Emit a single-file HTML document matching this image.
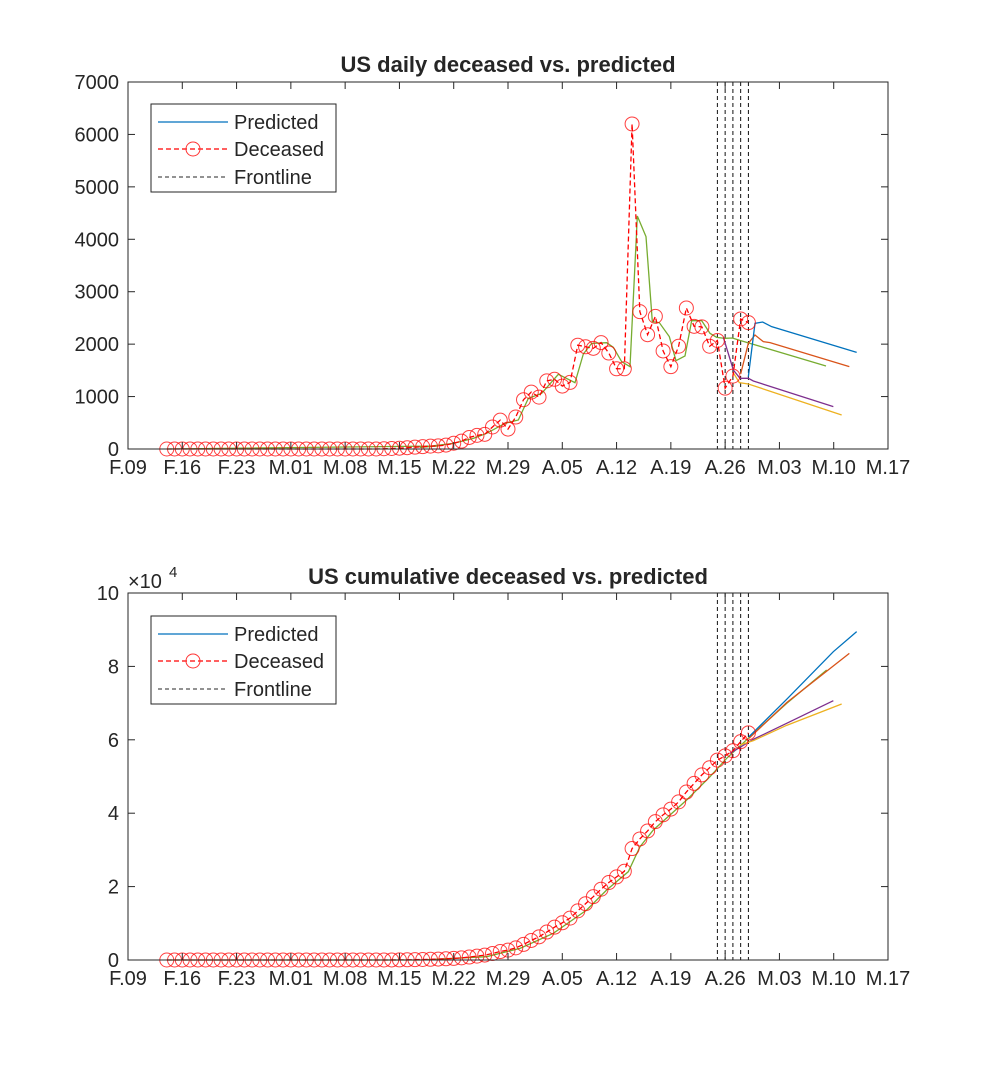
<!DOCTYPE html>
<html><head><meta charset="utf-8"><style>
body{margin:0;background:#fff}
svg{display:block}
text{font-family:"Liberation Sans",Arial,sans-serif;fill:#262626}
</style></head><body>
<svg id="s" width="983" height="1080" xmlns="http://www.w3.org/2000/svg"></svg>
<script>
const S=document.getElementById('s');let h='';
const L=128,R=888,pd=(R-L)/98;
const X=d=>L+d*pd;
const labs=['F.09','F.16','F.23','M.01','M.08','M.15','M.22','M.29','A.05','A.12','A.19','A.26','M.03','M.10','M.17'];
const red={};
for(let d=5;d<=80;d++)red[d]=0;
const v={33:5,34:10,35:15,36:25,37:35,38:45,39:55,40:60,41:75,42:110,43:150,44:220,45:260,46:280,47:420,48:550,49:380,50:610,51:940,52:1085,53:990,54:1300,55:1330,56:1200,57:1270,58:1980,59:1950,60:1920,61:2030,62:1830,63:1530,64:1530,65:6200,66:2620,67:2180,68:2530,69:1870,70:1570,71:1960,72:2690,73:2340,74:2330,75:1960,76:2070,77:1160,78:1390,79:2480,80:2410};
Object.assign(red,v);
function axes(top,bot){
  let s=`<rect x="${L}" y="${top}" width="${R-L}" height="${bot-top}" fill="none" stroke="#262626" stroke-width="1"/>`;
  for(let i=0;i<15;i++){const x=X(i*7);
    s+=`<line x1="${x}" y1="${bot}" x2="${x}" y2="${bot-7}" stroke="#262626"/><line x1="${x}" y1="${top}" x2="${x}" y2="${top+7}" stroke="#262626"/>`;
    s+=`<text x="${x}" y="${bot+25}" font-size="20" text-anchor="middle">${labs[i]}</text>`;}
  return s;}
function yt(top,bot,n,lab){let s='';for(let i=0;i<=n;i++){const y=bot-(bot-top)*i/n;
  s+=`<line x1="${L}" y1="${y}" x2="${L+7}" y2="${y}" stroke="#262626"/><line x1="${R}" y1="${y}" x2="${R-7}" y2="${y}" stroke="#262626"/>`;
  s+=`<text x="${L-9}" y="${y+7}" font-size="20" text-anchor="end">${lab(i)}</text>`;}return s;}
function fl(top,bot){let s='';for(let k=0;k<5;k++){const x=X(76+k);s+=`<line x1="${x}" y1="${top}" x2="${x}" y2="${bot}" stroke="#111" stroke-dasharray="4,3"/>`;}return s;}
function pl(pts,col,w){return `<polyline points="${pts.map(p=>p.join(',')).join(' ')}" fill="none" stroke="${col}" stroke-width="${w||1.3}"/>`;}
const Z=(a,oy)=>a.map(p=>[p[0]/3+420,p[1]/3+oy]);
function legend(y0){return `<rect x="151" y="${y0}" width="185" height="88" fill="#fff" stroke="#262626"/>
<line x1="158" y1="${y0+18}" x2="228" y2="${y0+18}" stroke="#0072bd" stroke-width="1.3"/>
<text x="234" y="${y0+25}" font-size="20">Predicted</text>
<line x1="158" y1="${y0+45}" x2="228" y2="${y0+45}" stroke="#f00" stroke-dasharray="5,3" stroke-width="1.3"/>
<circle cx="193" cy="${y0+45}" r="7" fill="none" stroke="#f33" stroke-width="1"/>
<text x="234" y="${y0+52}" font-size="20">Deceased</text>
<line x1="158" y1="${y0+73}" x2="228" y2="${y0+73}" stroke="#262626" stroke-dasharray="4,3"/>
<text x="234" y="${y0+80}" font-size="20">Frontline</text>`;}
const T1=82,B1=449,k1=(B1-T1)/7000;
h+=`<text x="508" y="72" font-size="22" font-weight="bold" text-anchor="middle">US daily deceased vs. predicted</text>`;
h+=fl(T1,B1);
let gT=[[X(5),B1],[X(40),B1-3]].concat(Z([[0,1042],[100,1030],[160,1015],[200,1000],[255,970],[295,960],[325,895],[365,880],[415,823],[465,848],[490,762],[515,730],[560,728],[580,742],[605,785],[630,800],[652,348],[678,410],[697,665],[718,668],[748,710],[768,782],[795,768],[815,662],[845,662],[870,700],[890,712],[915,715],[937,714],[962,722],[990,730],[1218,798]],100));
h+=pl(gT,'#77ac30');
h+=pl(Z([[910,712],[940,810],[960,835],[985,835],[1000,843],[1240,920]],100),'#7e2f8e');
h+=pl(Z([[940,818],[958,848],[985,852],[1265,945]],100),'#edb120');
h+=pl(Z([[962,822],[985,730],[1005,705],[1030,725],[1050,728],[1288,800]],100),'#d95319');
h+=pl(Z([[985,830],[1005,670],[1028,666],[1055,680],[1310,757]],100),'#0072bd');
let rp=[];for(let d=5;d<=80;d++)rp.push([X(d),B1-red[d]*k1]);
h+=`<polyline points="${rp.map(p=>p.join(',')).join(' ')}" fill="none" stroke="#f00" stroke-width="1.3" stroke-dasharray="5,3"/>`;
rp.forEach(p=>h+=`<circle cx="${p[0]}" cy="${p[1]}" r="7" fill="none" stroke="#f00" stroke-opacity="0.75" stroke-width="1"/>`);
h+=axes(T1,B1)+yt(T1,B1,7,i=>i*1000)+legend(104);
const T2=593,B2=960,k2=(B2-T2)/100000;
h+=`<text x="508" y="584" font-size="22" font-weight="bold" text-anchor="middle">US cumulative deceased vs. predicted</text>`;
h+=`<text x="128" y="588" font-size="20">×10</text><text x="169" y="577" font-size="15">4</text>`;
h+=fl(T2,B2);
let cum=[],c=0;for(let d=5;d<=80;d++){c+=red[d];cum.push(c);}
const sc=61900/c;
let cp=cum.map((v,i)=>[X(i+5),B2-v*sc*k2]);
h+=pl([[X(5),B2]].concat(Z([[0,1110],[200,1100],[300,1075],[400,1030],[500,960],[560,900],[625,845],[660,770],[700,720],[800,630],[870,560],[920,505],[990,440],[1100,340],[1220,240]],590)),'#77ac30');
h+=pl(Z([[930,490],[1000,448],[1100,400],[1240,332]],590),'#7e2f8e');
h+=pl(Z([[960,465],[1000,452],[1100,406],[1265,342]],590),'#edb120');
h+=pl(Z([[987,445],[1100,338],[1288,190]],590),'#d95319');
h+=pl(Z([[987,440],[1100,328],[1240,185],[1310,125]],590),'#0072bd');
h+=`<polyline points="${cp.map(p=>p.join(',')).join(' ')}" fill="none" stroke="#f00" stroke-width="1.3" stroke-dasharray="5,3"/>`;
cp.forEach(p=>h+=`<circle cx="${p[0]}" cy="${p[1]}" r="7" fill="none" stroke="#f00" stroke-opacity="0.75" stroke-width="1"/>`);
h+=axes(T2,B2)+yt(T2,B2,5,i=>i*2)+legend(616);
S.innerHTML=h;
</script>
</body></html>
